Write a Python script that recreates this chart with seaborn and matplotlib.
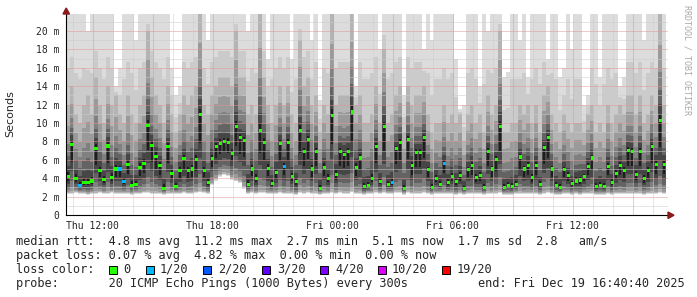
import matplotlib
matplotlib.use("Agg")
import numpy as np
import pandas as pd
import matplotlib.pyplot as plt
import seaborn as sns
from matplotlib.patches import Rectangle, Polygon

# ---------------- data ----------------
# 150 consolidated columns (12 min each) from Thu 10:40 to Fri 16:40
median_ms = [
    4.2, 7.7, 4.0, 3.2, 3.5, 3.5, 3.7, 7.2, 4.8, 3.9,
    7.5, 4.1, 5.0, 5.0, 3.6, 5.5, 3.2, 3.3, 5.2, 5.6,
    9.7, 7.6, 6.4, 5.4, 2.9, 7.4, 4.5, 3.1, 4.8, 6.1,
    4.8, 5.0, 6.0, 10.9, 4.8, 3.5, 6.1, 7.4, 7.8, 8.0,
    7.9, 6.7, 9.6, 8.4, 8.1, 3.3, 5.0, 4.0, 9.2, 7.9,
    5.1, 3.4, 4.6, 7.8, 5.3, 7.9, 4.2, 3.6, 9.2, 6.9,
    8.2, 5.0, 6.9, 2.9, 5.2, 4.0, 10.8, 4.4, 6.9, 6.6,
    6.9, 11.2, 5.2, 6.2, 3.1, 3.2, 4.0, 7.4, 3.6, 9.6,
    3.3, 3.5, 7.2, 7.9, 2.9, 8.2, 5.4, 6.8, 6.8, 8.4,
    4.9, 3.0, 4.0, 3.3, 5.6, 3.5, 4.2, 3.6, 4.3, 2.9,
    4.9, 5.4, 4.1, 4.3, 3.0, 6.9, 5.0, 6.0, 9.6, 3.0,
    3.2, 3.1, 3.3, 6.3, 5.0, 5.4, 4.1, 5.4, 3.3, 7.3,
    8.4, 5.0, 3.2, 3.0, 4.9, 4.3, 3.4, 3.7, 3.8, 4.2,
    5.3, 6.2, 3.1, 3.2, 3.1, 5.3, 3.5, 4.5, 5.4, 4.8,
    7.0, 6.9, 4.4, 6.9, 4.0, 4.8, 7.4, 5.5, 10.3, 5.5,
]
lo_ms = [
    2.4, 2.4, 2.5, 2.4, 2.4, 2.3, 2.4, 2.4, 2.5, 2.4,
    2.4, 2.5, 2.4, 2.4, 2.4, 2.4, 2.3, 2.4, 2.4, 2.5,
    2.5, 2.4, 2.4, 2.4, 2.3, 2.4, 2.4, 2.4, 2.4, 2.5,
    2.4, 2.4, 2.5, 2.6, 2.5, 2.4, 3.4, 3.9, 4.3, 4.5,
    4.4, 4.0, 3.8, 3.6, 3.0, 2.4, 2.5, 2.4, 2.5, 2.5,
    2.4, 2.4, 2.4, 2.5, 2.4, 2.4, 2.4, 2.3, 2.5, 2.4,
    2.5, 2.4, 2.4, 2.3, 2.4, 2.4, 2.5, 2.4, 2.5, 2.4,
    2.4, 2.6, 2.4, 2.4, 2.3, 2.4, 2.4, 2.5, 2.4, 2.5,
    2.4, 2.4, 2.5, 2.5, 2.3, 2.5, 2.4, 2.4, 2.4, 2.5,
    2.4, 2.3, 2.4, 2.4, 2.4, 2.4, 2.4, 2.3, 2.4, 2.3,
    2.4, 2.4, 2.4, 2.4, 2.3, 2.4, 2.4, 2.4, 2.5, 2.3,
    2.3, 2.3, 2.4, 2.4, 2.4, 2.4, 2.4, 2.4, 2.3, 2.4,
    2.5, 2.4, 2.3, 2.3, 2.4, 2.4, 2.3, 2.4, 2.3, 2.4,
    2.4, 2.4, 2.3, 2.3, 2.3, 2.4, 2.3, 2.4, 2.4, 2.4,
    2.4, 2.4, 2.4, 2.4, 2.3, 2.4, 2.4, 2.4, 2.5, 2.4,
]
mid_ms = [
    12, 14, 11, 10, 12, 13, 11, 15, 12, 10,
    14, 12, 13, 11, 10, 13, 11, 10, 12, 13,
    20, 15, 13, 12, 10, 14, 11, 9, 11, 13,
    12, 13, 14, 22, 12, 11, 13, 14, 15, 15,
    15, 14, 20, 15, 15, 11, 12, 11, 22, 15,
    12, 10, 12, 14, 12, 14, 11, 10, 19, 14,
    15, 12, 13, 9, 12, 11, 22, 12, 13, 13,
    13, 22, 12, 13, 10, 10, 11, 14, 10, 18,
    10, 11, 13, 14, 9, 14, 12, 13, 13, 14,
    11, 9, 10, 10, 12, 10, 11, 10, 11, 8,
    11, 12, 10, 11, 9, 13, 11, 12, 20, 9,
    9, 10, 10, 12, 11, 12, 10, 12, 9, 13,
    14, 11, 10, 9, 11, 10, 9, 10, 10, 9,
    11, 12, 9, 10, 9, 12, 10, 11, 12, 11,
    13, 13, 11, 13, 10, 11, 13, 12, 22, 12,
]
hi_ms = [
    22, 22, 22, 22, 22, 20, 22, 22, 22, 22,
    22, 22, 14, 16, 22, 22, 22, 19, 22, 22,
    22, 22, 22, 22, 22, 22, 16, 13, 14, 22,
    22, 22, 22, 22, 22, 19, 22, 22, 22, 22,
    22, 22, 22, 22, 22, 20, 22, 22, 22, 22,
    17, 22, 22, 22, 22, 22, 17, 22, 22, 22,
    22, 19, 22, 12.5, 22, 22, 22, 22, 22, 22,
    22, 22, 14, 22, 22, 22, 22, 22, 18, 22,
    22, 22, 22, 22, 13, 22, 22, 22, 22, 18,
    22, 19, 22, 22, 22, 22, 22, 17, 11.5, 12,
    22, 22, 22, 14, 22, 20, 22, 22, 22, 15,
    15.5, 22, 22, 19, 22, 15, 22, 22, 22, 22,
    17, 22, 22, 15, 16, 22, 18, 22, 22, 12,
    13, 22, 22, 15, 22, 22, 22, 22, 14, 15,
    22, 22, 22, 22, 19, 22, 22, 22, 22, 22,
]
loss_cols = [3, 13, 14, 54, 81, 94]   # columns with 1/20 loss

start_h, end_h = 10.665, 40.678        # hours since Thu 00:00
major_ticks = [12, 18, 24, 30, 36]
major_labels = ["Thu 12:00", "Thu 18:00", "Fri 00:00", "Fri 06:00", "Fri 12:00"]

stats_lines = [
    "median rtt:  4.8 ms avg  11.2 ms max  2.7 ms min  5.1 ms now  1.7 ms sd  2.8   am/s",
    "packet loss: 0.07 % avg  4.82 % max  0.00 % min  0.00 % now",
    "loss color:",
    "probe:       20 ICMP Echo Pings (1000 Bytes) every 300s",
]
end_text = "end: Fri Dec 19 16:40:40 2025"
loss_labels = ["0", "1/20", "2/20", "3/20", "4/20", "10/20", "19/20"]
loss_colors = ["#26ff00", "#00b8ff", "#0059ff", "#5e00ff", "#7e00ff", "#dd00ff", "#ff0000"]

# ---------------- figure ----------------
sns.set_style("white")
plt.rcParams["font.family"] = ["DejaVu Sans Mono"]

W, H = 697, 297
fig = plt.figure(figsize=(W / 100, H / 100), dpi=100)
fig.patch.set_facecolor("white")
L, R, T, B = 66, 668, 14, 215
ax = fig.add_axes([L / W, (H - B) / H, (R - L) / W, (B - T) / H])
ax.set_facecolor("white")

n = len(median_ms)
med = np.array(median_ms, float)
lo = np.array(lo_ms, float)
mid = np.array(mid_ms, float)
hi = np.array(hi_ms, float)
w = (end_h - start_h) / n
edges = start_h + w * np.arange(n + 1)
centers = start_h + w * (np.arange(n) + 0.5)

def ext(a):
    return np.append(a, a[-1])

# smoke: nested bands, darker towards the median
layers = [
    (lo - 0.15, hi, "#dcdcdc"),
    (lo - 0.05, mid + 0.4 * (hi - mid), "#cbcbcb"),
    (lo, mid, "#b4b4b4"),
    (lo + 0.03 * (med - lo) + 0.05, med + 0.7 * (mid - med), "#9a9a9a"),
    (lo + 0.1 * (med - lo) + 0.1, med + 0.45 * (mid - med), "#808080"),
    (lo + 0.2 * (med - lo) + 0.2, med + 0.28 * (mid - med), "#636363"),
    (lo + 0.4 * (med - lo) + 0.25, med + 0.15 * (mid - med), "#464646"),
]
for y1, y2, c in layers:
    ax.fill_between(edges, ext(y1), ext(y2), step="post", color=c, lw=0, zorder=1)

# darkest core as thin streaks
core_lo = lo + 0.6 * (med - lo) + 0.2
core_hi = med + 0.06 * (mid - med)
ax.bar(centers, core_hi - core_lo, bottom=core_lo, width=w * 0.5,
       color="#1e1e1e", lw=0, zorder=2)

# dotted grid on top of smoke
gkw = dict(lw=0.72, ls=(0, (1, 1)), zorder=3)
for yv in range(1, 22):
    ax.axhline(yv, color="#cccccc" if yv % 2 else "#e39494", **gkw)
for hv in range(11, 41):
    ax.axvline(hv, color="#e39494" if hv % 3 == 0 else "#cccccc", **gkw)

# median markers coloured by loss
df = pd.DataFrame({"t": centers, "median": med,
                   "loss": ["1/20" if i in loss_cols else "0" for i in range(n)]})
sns.scatterplot(data=df, x="t", y="median", hue="loss",
                palette={"0": loss_colors[0], "1/20": loss_colors[1]},
                marker="s", s=5, linewidth=0, legend=False, ax=ax, zorder=5)

ax.set_xlim(start_h, start_h + (R - L) / 20.0)
ax.set_ylim(0, (B - T) / 9.2)
ax.set_xlabel("")
ax.set_ylabel("")
ax.set_xticks(major_ticks)
ax.set_xticklabels(major_labels, fontsize=7)
ax.set_yticks(range(0, 22, 2))
ax.set_yticklabels(["0"] + [f"{v} m" for v in range(2, 22, 2)], fontsize=7)
ax.tick_params(axis="both", length=0, pad=4.5)
for s in ["top", "right"]:
    ax.spines[s].set_visible(False)
for s in ["left", "bottom"]:
    ax.spines[s].set_color("black")
    ax.spines[s].set_linewidth(0.8)
    ax.spines[s].set_zorder(6)

def fx(px):
    return px / W

def fy(py):
    return 1 - py / H

# axis arrows
fig.add_artist(Polygon([(fx(63), fy(14)), (fx(69.5), fy(14)), (fx(66.2), fy(8))],
                       closed=True, color="#8b1a1a", transform=fig.transFigure))
fig.add_artist(Polygon([(fx(668), fy(212)), (fx(668), fy(218.5)), (fx(674), fy(215.2))],
                       closed=True, color="#8b1a1a", transform=fig.transFigure))

fig.text(fx(10), fy(114), "Seconds", rotation=90, ha="center", va="center",
         fontsize=8, family="DejaVu Sans")
fig.text(fx(687), fy(5), "RRDTOOL / TOBI OETIKER", rotation=270, ha="center", va="top",
         fontsize=6, color="#a8a8a8")

line_y = [241.5, 255.5, 269.5, 283.5]
for txt, yy in zip(stats_lines, line_y):
    fig.text(fx(16), fy(yy), txt, ha="left", va="center", fontsize=8.55)
fig.text(fx(478), fy(line_y[3]), end_text, ha="left", va="center", fontsize=8.55)

box_x = [109, 146, 203, 262, 320, 378, 442]
lab_x = [123, 160, 218, 277, 335, 392, 457]
for bx, lx, lab, col in zip(box_x, lab_x, loss_labels, loss_colors):
    fig.add_artist(Rectangle((fx(bx), fy(273.5)), 8 / W, 8 / H, facecolor=col,
                             edgecolor="black", lw=0.7, transform=fig.transFigure))
    fig.text(fx(lx), fy(line_y[2]), lab, ha="left", va="center", fontsize=8.55)

fig.savefig("out.png", dpi=100, facecolor="white")
